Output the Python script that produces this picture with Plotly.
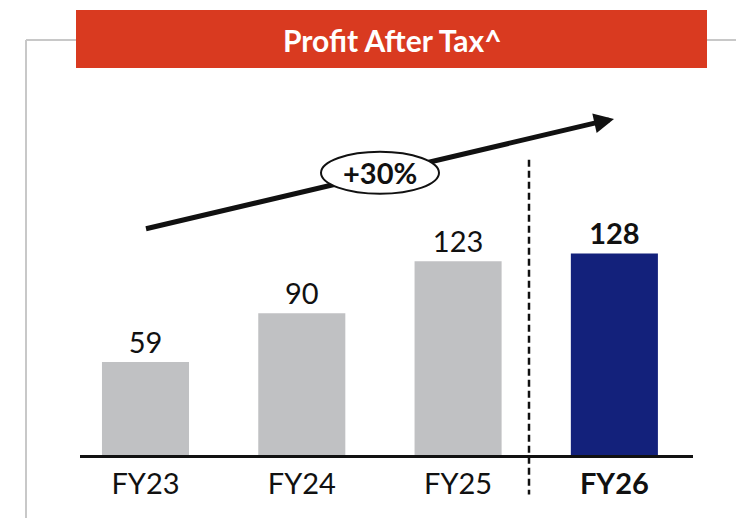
import plotly.graph_objects as go

categories = ["FY23", "FY24", "FY25", "FY26"]
values = [59, 90, 123, 128]
tick_labels = ["FY23", "FY24", "FY25", "<b>FY26</b>"]
bar_labels = ["59", "90", "123", "<b>128</b>"]
bar_colors = ["#C0C1C3", "#C0C1C3", "#C0C1C3", "#13217B"]
title_text = "<b>Profit After Tax^</b>"
growth_text = "<b>+30%</b>"

W, H = 744, 518
OFF = 8  # page body margin
# plot area in reference page pixels
AX_L, AX_R, AX_T, AX_B = 80, 693, 40, 455.5
ML = AX_L - OFF
MR = W - (AX_R - OFF)
MT = AX_T - OFF
MB = H - (AX_B - OFF)
PW = AX_R - AX_L
PH = AX_B - AX_T

def px(x):
    return (x - AX_L) / PW

def py(y):
    return (AX_B - y) / PH

fig = go.Figure()
fig.add_trace(go.Bar(
    x=list(range(len(categories))), y=values,
    marker=dict(color=bar_colors, line=dict(width=0)),
    text=bar_labels, textposition="outside",
    textfont=dict(size=29, color="#111111", family="Lato"),
    cliponaxis=False, width=0.557,
))

shapes = []
gray = dict(color="#C8C8C8", width=2)
shapes.append(dict(type="line", xref="paper", yref="paper", x0=px(26), x1=px(77), y0=py(40), y1=py(40), line=gray))
shapes.append(dict(type="line", xref="paper", yref="paper", x0=px(26), x1=px(26), y0=py(40), y1=py(530), line=gray))
shapes.append(dict(type="line", xref="paper", yref="paper", x0=px(706), x1=px(760), y0=py(40), y1=py(40), line=gray))
shapes.append(dict(type="rect", xref="paper", yref="paper", x0=px(76), x1=px(707), y0=py(10), y1=py(68),
                   fillcolor="#D93A20", line=dict(width=0)))
shapes.append(dict(type="line", xref="paper", yref="paper", x0=px(529), x1=px(529), y0=py(160), y1=py(495),
                   line=dict(color="#111111", width=2.5, dash="7px,4px")))
# arrow shaft
shapes.append(dict(type="line", xref="paper", yref="paper", x0=px(146), x1=px(602), y0=py(229), y1=py(121.5),
                   line=dict(color="#111111", width=5)))
# ellipse over shaft
shapes.append(dict(type="circle", xref="paper", yref="paper", x0=px(321), x1=px(439), y0=py(152), y1=py(194),
                   fillcolor="white", line=dict(color="#111111", width=2)))

annotations = []
annotations.append(dict(xref="paper", yref="paper", x=px(392), y=py(40), text=title_text, showarrow=False,
                        font=dict(size=30, color="white", family="Lato"), xanchor="center", yanchor="middle"))
# arrow head
annotations.append(dict(xref="x domain", yref="y domain", axref="x domain", ayref="y domain",
                        x=px(614), y=py(119), ax=px(596), ay=py(123), text="", showarrow=True,
                        arrowhead=2, arrowsize=0.8, arrowwidth=5, arrowcolor="#111111", standoff=0, startstandoff=0))
annotations.append(dict(xref="paper", yref="paper", x=px(380), y=py(173), text=growth_text, showarrow=False,
                        font=dict(size=29, color="#111111", family="Lato"), xanchor="center", yanchor="middle"))

fig.update_layout(
    width=W, height=H, margin=dict(l=ML, r=MR, t=MT, b=MB),
    paper_bgcolor="white", plot_bgcolor="white", showlegend=False,
    shapes=shapes, annotations=annotations,
    xaxis=dict(range=[-0.419, 3.503], tickmode="array", tickvals=list(range(len(categories))), ticktext=tick_labels,
               showgrid=False, zeroline=False, showline=True, linecolor="#111111", linewidth=3,
               ticks="", tickfont=dict(size=29, color="#111111", family="Lato"), ticklabelstandoff=1),
    yaxis=dict(range=[0, PH / 1.577], visible=False, showgrid=False, zeroline=False),
)

fig.write_html("out.html")
